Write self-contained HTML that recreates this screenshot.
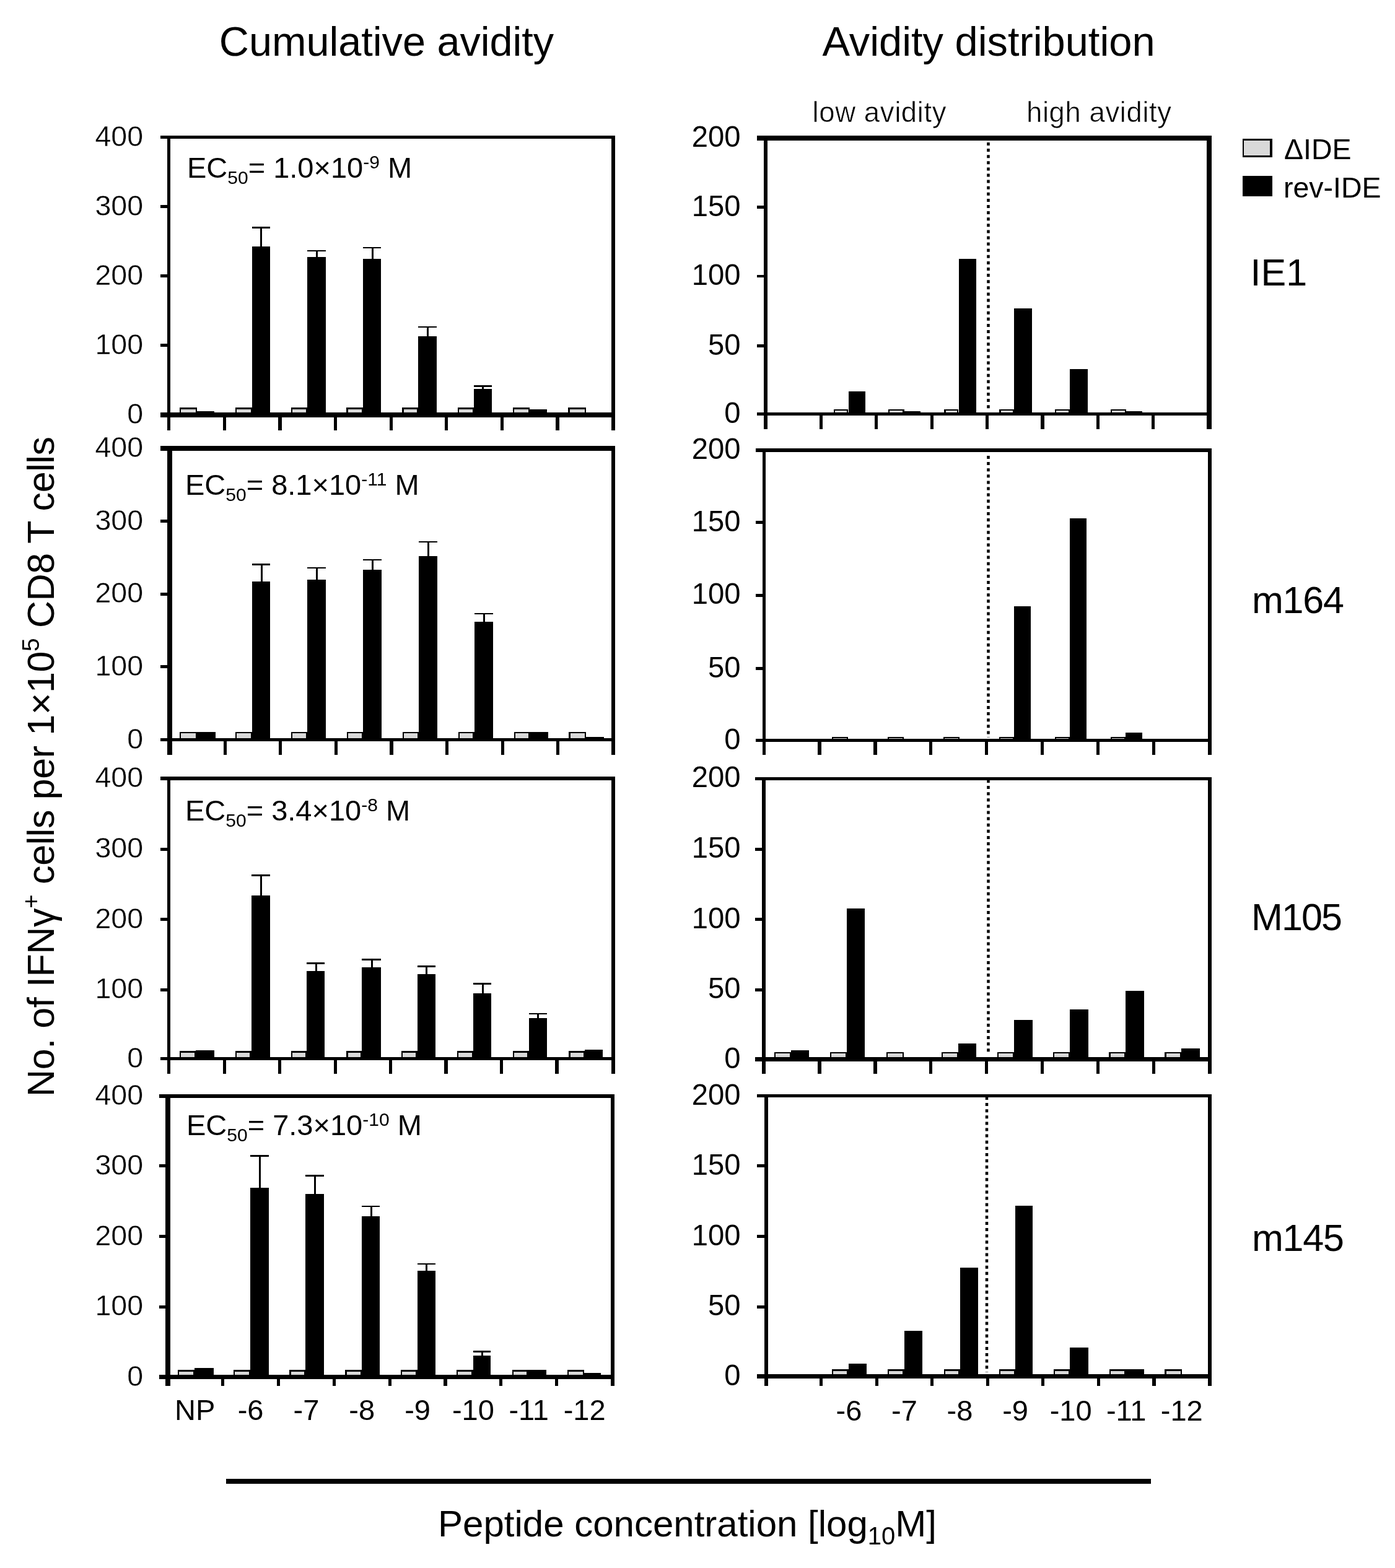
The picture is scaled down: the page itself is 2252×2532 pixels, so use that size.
<!DOCTYPE html>
<html><head><meta charset="utf-8"><title>Cumulative avidity and avidity distribution</title>
<style>
html,body{margin:0;padding:0;background:#fff;}
body{width:2252px;height:2532px;overflow:hidden;}
svg{display:block;font-family:'Liberation Sans', Arial, Helvetica, sans-serif;fill:#000;}
.thin{stroke:#fff;stroke-width:0.6px;}
.thin6{stroke:#fff;stroke-width:0.4px;}
</style></head><body>
<svg width="2252" height="2532" viewBox="0 0 2252 2532">
<rect x="0" y="0" width="2252" height="2532" fill="#fff"/>
<rect x="290" y="658" width="28" height="8" fill="#000"/>
<rect x="292" y="661" width="24" height="5" fill="#d9d9d9"/>
<rect x="380" y="658" width="27" height="8" fill="#000"/>
<rect x="382" y="661" width="23" height="5" fill="#d9d9d9"/>
<rect x="470" y="658" width="26" height="8" fill="#000"/>
<rect x="472" y="661" width="22" height="5" fill="#d9d9d9"/>
<rect x="559" y="658" width="27" height="8" fill="#000"/>
<rect x="562" y="661" width="22" height="5" fill="#d9d9d9"/>
<rect x="649" y="658" width="26" height="8" fill="#000"/>
<rect x="652" y="661" width="21" height="5" fill="#d9d9d9"/>
<rect x="739" y="658" width="26" height="8" fill="#000"/>
<rect x="741" y="661" width="22" height="5" fill="#d9d9d9"/>
<rect x="828" y="658" width="27" height="8" fill="#000"/>
<rect x="830" y="661" width="23" height="5" fill="#d9d9d9"/>
<rect x="917" y="658" width="29" height="8" fill="#000"/>
<rect x="920" y="661" width="24" height="5" fill="#d9d9d9"/>
<rect x="318" y="664" width="28" height="2" fill="#000"/>
<rect x="407" y="398" width="29" height="268" fill="#000"/>
<rect x="496" y="415" width="30" height="251" fill="#000"/>
<rect x="586" y="418" width="29" height="248" fill="#000"/>
<rect x="675" y="543" width="30" height="123" fill="#000"/>
<rect x="765" y="628" width="29" height="38" fill="#000"/>
<rect x="855" y="661" width="28" height="5" fill="#000"/>
<rect x="420" y="367" width="3" height="31" fill="#000"/>
<rect x="407" y="366" width="29" height="3" fill="#000"/>
<rect x="510" y="405" width="3" height="10" fill="#000"/>
<rect x="496" y="404" width="30" height="2" fill="#000"/>
<rect x="600" y="400" width="3" height="18" fill="#000"/>
<rect x="586" y="399" width="29" height="2" fill="#000"/>
<rect x="689" y="528" width="3" height="15" fill="#000"/>
<rect x="675" y="527" width="30" height="2" fill="#000"/>
<rect x="778" y="623" width="3" height="5" fill="#000"/>
<rect x="765" y="622" width="29" height="3" fill="#000"/>
<rect x="259" y="219" width="734" height="5" fill="#000"/>
<rect x="259" y="666" width="734" height="8" fill="#000"/>
<rect x="270" y="219" width="5" height="476" fill="#000"/>
<rect x="987" y="219" width="6" height="476" fill="#000"/>
<rect x="259" y="331" width="11" height="5" fill="#000"/>
<rect x="259" y="443" width="11" height="5" fill="#000"/>
<rect x="259" y="555" width="11" height="5" fill="#000"/>
<rect x="360" y="674" width="5" height="21" fill="#000"/>
<rect x="449" y="674" width="6" height="21" fill="#000"/>
<rect x="539" y="674" width="5" height="21" fill="#000"/>
<rect x="629" y="674" width="5" height="21" fill="#000"/>
<rect x="718" y="674" width="5" height="21" fill="#000"/>
<rect x="808" y="674" width="5" height="21" fill="#000"/>
<rect x="897" y="674" width="6" height="21" fill="#000"/>
<text x="231.0" y="235.5" font-size="46.5" text-anchor="end" class="thin6">400</text>
<text x="231.0" y="347.6" font-size="46.5" text-anchor="end" class="thin6">300</text>
<text x="231.0" y="459.5" font-size="46.5" text-anchor="end" class="thin6">200</text>
<text x="231.0" y="571.8" font-size="46.5" text-anchor="end" class="thin6">100</text>
<text x="231.0" y="684.0" font-size="46.5" text-anchor="end" class="thin6">0</text>
<rect x="290" y="1182" width="28" height="10" fill="#000"/>
<rect x="292" y="1184" width="24" height="8" fill="#d9d9d9"/>
<rect x="380" y="1182" width="27" height="10" fill="#000"/>
<rect x="382" y="1184" width="23" height="8" fill="#d9d9d9"/>
<rect x="470" y="1182" width="26" height="10" fill="#000"/>
<rect x="472" y="1184" width="22" height="8" fill="#d9d9d9"/>
<rect x="560" y="1182" width="26" height="10" fill="#000"/>
<rect x="562" y="1184" width="22" height="8" fill="#d9d9d9"/>
<rect x="650" y="1182" width="26" height="10" fill="#000"/>
<rect x="652" y="1184" width="22" height="8" fill="#d9d9d9"/>
<rect x="740" y="1182" width="26" height="10" fill="#000"/>
<rect x="742" y="1184" width="21" height="8" fill="#d9d9d9"/>
<rect x="830" y="1182" width="26" height="10" fill="#000"/>
<rect x="832" y="1184" width="21" height="8" fill="#d9d9d9"/>
<rect x="918" y="1182" width="28" height="10" fill="#000"/>
<rect x="921" y="1184" width="23" height="8" fill="#d9d9d9"/>
<rect x="318" y="1182" width="30" height="10" fill="#000"/>
<rect x="407" y="939" width="29" height="253" fill="#000"/>
<rect x="496" y="936" width="30" height="256" fill="#000"/>
<rect x="586" y="920" width="30" height="272" fill="#000"/>
<rect x="676" y="898" width="30" height="294" fill="#000"/>
<rect x="766" y="1004" width="30" height="188" fill="#000"/>
<rect x="856" y="1182" width="29" height="10" fill="#000"/>
<rect x="946" y="1190" width="29" height="2" fill="#000"/>
<rect x="421" y="911" width="3" height="28" fill="#000"/>
<rect x="407" y="910" width="29" height="3" fill="#000"/>
<rect x="510" y="917" width="3" height="19" fill="#000"/>
<rect x="496" y="916" width="30" height="2" fill="#000"/>
<rect x="600" y="904" width="3" height="16" fill="#000"/>
<rect x="586" y="903" width="30" height="2" fill="#000"/>
<rect x="690" y="875" width="3" height="23" fill="#000"/>
<rect x="676" y="874" width="30" height="2" fill="#000"/>
<rect x="780" y="991" width="3" height="13" fill="#000"/>
<rect x="766" y="990" width="30" height="2" fill="#000"/>
<rect x="259" y="720" width="734" height="8" fill="#000"/>
<rect x="259" y="1192" width="734" height="5" fill="#000"/>
<rect x="270" y="720" width="8" height="499" fill="#000"/>
<rect x="987" y="720" width="6" height="499" fill="#000"/>
<rect x="259" y="839" width="11" height="5" fill="#000"/>
<rect x="259" y="957" width="11" height="5" fill="#000"/>
<rect x="259" y="1074" width="11" height="5" fill="#000"/>
<rect x="361" y="1197" width="5" height="22" fill="#000"/>
<rect x="450" y="1197" width="5" height="22" fill="#000"/>
<rect x="540" y="1197" width="5" height="22" fill="#000"/>
<rect x="629" y="1197" width="6" height="22" fill="#000"/>
<rect x="719" y="1197" width="5" height="22" fill="#000"/>
<rect x="809" y="1197" width="5" height="22" fill="#000"/>
<rect x="898" y="1197" width="5" height="22" fill="#000"/>
<text x="231.0" y="738.0" font-size="46.5" text-anchor="end" class="thin6">400</text>
<text x="231.0" y="855.6" font-size="46.5" text-anchor="end" class="thin6">300</text>
<text x="231.0" y="973.2" font-size="46.5" text-anchor="end" class="thin6">200</text>
<text x="231.0" y="1090.8" font-size="46.5" text-anchor="end" class="thin6">100</text>
<text x="231.0" y="1208.5" font-size="46.5" text-anchor="end" class="thin6">0</text>
<rect x="290" y="1697" width="26" height="10" fill="#000"/>
<rect x="292" y="1700" width="22" height="7" fill="#d9d9d9"/>
<rect x="380" y="1697" width="26" height="10" fill="#000"/>
<rect x="382" y="1700" width="21" height="7" fill="#d9d9d9"/>
<rect x="470" y="1697" width="25" height="10" fill="#000"/>
<rect x="472" y="1700" width="21" height="7" fill="#d9d9d9"/>
<rect x="559" y="1697" width="25" height="10" fill="#000"/>
<rect x="562" y="1700" width="20" height="7" fill="#d9d9d9"/>
<rect x="648" y="1697" width="26" height="10" fill="#000"/>
<rect x="650" y="1700" width="21" height="7" fill="#d9d9d9"/>
<rect x="738" y="1697" width="26" height="10" fill="#000"/>
<rect x="740" y="1700" width="22" height="7" fill="#d9d9d9"/>
<rect x="828" y="1697" width="26" height="10" fill="#000"/>
<rect x="830" y="1700" width="21" height="7" fill="#d9d9d9"/>
<rect x="918" y="1697" width="26" height="10" fill="#000"/>
<rect x="921" y="1700" width="21" height="7" fill="#d9d9d9"/>
<rect x="316" y="1696" width="30" height="11" fill="#000"/>
<rect x="406" y="1446" width="30" height="261" fill="#000"/>
<rect x="495" y="1568" width="29" height="139" fill="#000"/>
<rect x="584" y="1562" width="31" height="145" fill="#000"/>
<rect x="674" y="1573" width="29" height="134" fill="#000"/>
<rect x="764" y="1604" width="29" height="103" fill="#000"/>
<rect x="854" y="1644" width="29" height="63" fill="#000"/>
<rect x="944" y="1695" width="29" height="12" fill="#000"/>
<rect x="420" y="1414" width="3" height="32" fill="#000"/>
<rect x="406" y="1412" width="30" height="3" fill="#000"/>
<rect x="509" y="1556" width="3" height="12" fill="#000"/>
<rect x="495" y="1554" width="29" height="3" fill="#000"/>
<rect x="599" y="1549" width="3" height="13" fill="#000"/>
<rect x="584" y="1548" width="31" height="3" fill="#000"/>
<rect x="687" y="1561" width="3" height="12" fill="#000"/>
<rect x="674" y="1559" width="29" height="3" fill="#000"/>
<rect x="778" y="1589" width="3" height="15" fill="#000"/>
<rect x="764" y="1587" width="29" height="3" fill="#000"/>
<rect x="867" y="1637" width="3" height="7" fill="#000"/>
<rect x="854" y="1636" width="29" height="2" fill="#000"/>
<rect x="259" y="1254" width="734" height="6" fill="#000"/>
<rect x="259" y="1707" width="734" height="5" fill="#000"/>
<rect x="270" y="1254" width="5" height="480" fill="#000"/>
<rect x="987" y="1254" width="6" height="480" fill="#000"/>
<rect x="259" y="1369" width="11" height="5" fill="#000"/>
<rect x="259" y="1482" width="11" height="5" fill="#000"/>
<rect x="259" y="1596" width="11" height="5" fill="#000"/>
<rect x="360" y="1712" width="5" height="22" fill="#000"/>
<rect x="449" y="1712" width="5" height="22" fill="#000"/>
<rect x="539" y="1712" width="5" height="22" fill="#000"/>
<rect x="628" y="1712" width="5" height="22" fill="#000"/>
<rect x="717" y="1712" width="6" height="22" fill="#000"/>
<rect x="807" y="1712" width="5" height="22" fill="#000"/>
<rect x="896" y="1712" width="6" height="22" fill="#000"/>
<text x="231.0" y="1271.0" font-size="46.5" text-anchor="end" class="thin6">400</text>
<text x="231.0" y="1385.2" font-size="46.5" text-anchor="end" class="thin6">300</text>
<text x="231.0" y="1498.6" font-size="46.5" text-anchor="end" class="thin6">200</text>
<text x="231.0" y="1612.1" font-size="46.5" text-anchor="end" class="thin6">100</text>
<text x="231.0" y="1723.7" font-size="46.5" text-anchor="end" class="thin6">0</text>
<rect x="287" y="2212" width="27" height="8" fill="#000"/>
<rect x="289" y="2215" width="23" height="5" fill="#d9d9d9"/>
<rect x="377" y="2212" width="27" height="8" fill="#000"/>
<rect x="379" y="2215" width="23" height="5" fill="#d9d9d9"/>
<rect x="467" y="2212" width="26" height="8" fill="#000"/>
<rect x="470" y="2215" width="21" height="5" fill="#d9d9d9"/>
<rect x="557" y="2212" width="27" height="8" fill="#000"/>
<rect x="560" y="2215" width="22" height="5" fill="#d9d9d9"/>
<rect x="647" y="2212" width="27" height="8" fill="#000"/>
<rect x="649" y="2215" width="22" height="5" fill="#d9d9d9"/>
<rect x="737" y="2212" width="27" height="8" fill="#000"/>
<rect x="739" y="2215" width="22" height="5" fill="#d9d9d9"/>
<rect x="827" y="2212" width="25" height="8" fill="#000"/>
<rect x="829" y="2215" width="21" height="5" fill="#d9d9d9"/>
<rect x="916" y="2212" width="27" height="8" fill="#000"/>
<rect x="918" y="2215" width="23" height="5" fill="#d9d9d9"/>
<rect x="314" y="2209" width="31" height="11" fill="#000"/>
<rect x="404" y="1918" width="30" height="302" fill="#000"/>
<rect x="493" y="1928" width="30" height="292" fill="#000"/>
<rect x="584" y="1964" width="29" height="256" fill="#000"/>
<rect x="674" y="2052" width="29" height="168" fill="#000"/>
<rect x="764" y="2189" width="28" height="31" fill="#000"/>
<rect x="852" y="2212" width="30" height="8" fill="#000"/>
<rect x="943" y="2217" width="27" height="3" fill="#000"/>
<rect x="418" y="1866" width="3" height="52" fill="#000"/>
<rect x="404" y="1865" width="30" height="3" fill="#000"/>
<rect x="507" y="1899" width="3" height="29" fill="#000"/>
<rect x="493" y="1897" width="30" height="3" fill="#000"/>
<rect x="598" y="1948" width="3" height="16" fill="#000"/>
<rect x="584" y="1947" width="29" height="2" fill="#000"/>
<rect x="687" y="2041" width="3" height="11" fill="#000"/>
<rect x="674" y="2040" width="29" height="2" fill="#000"/>
<rect x="777" y="2182" width="3" height="7" fill="#000"/>
<rect x="764" y="2181" width="28" height="3" fill="#000"/>
<rect x="257" y="1767" width="735" height="6" fill="#000"/>
<rect x="257" y="2220" width="735" height="7" fill="#000"/>
<rect x="267" y="1767" width="8" height="471" fill="#000"/>
<rect x="986" y="1767" width="6" height="471" fill="#000"/>
<rect x="257" y="1880" width="10" height="5" fill="#000"/>
<rect x="257" y="1994" width="10" height="5" fill="#000"/>
<rect x="257" y="2108" width="10" height="5" fill="#000"/>
<rect x="357" y="2227" width="5" height="11" fill="#000"/>
<rect x="447" y="2227" width="5" height="11" fill="#000"/>
<rect x="537" y="2227" width="5" height="11" fill="#000"/>
<rect x="627" y="2227" width="5" height="11" fill="#000"/>
<rect x="716" y="2227" width="6" height="11" fill="#000"/>
<rect x="806" y="2227" width="5" height="11" fill="#000"/>
<rect x="896" y="2227" width="5" height="11" fill="#000"/>
<text x="231.0" y="1784.0" font-size="46.5" text-anchor="end" class="thin6">400</text>
<text x="231.0" y="1896.8" font-size="46.5" text-anchor="end" class="thin6">300</text>
<text x="231.0" y="2010.7" font-size="46.5" text-anchor="end" class="thin6">200</text>
<text x="231.0" y="2124.1" font-size="46.5" text-anchor="end" class="thin6">100</text>
<text x="231.0" y="2237.5" font-size="46.5" text-anchor="end" class="thin6">0</text>
<rect x="1346" y="661" width="23" height="5" fill="#000"/>
<rect x="1348" y="663" width="19" height="3" fill="#d9d9d9"/>
<rect x="1434" y="661" width="26" height="5" fill="#000"/>
<rect x="1436" y="663" width="21" height="3" fill="#d9d9d9"/>
<rect x="1524" y="661" width="23" height="5" fill="#000"/>
<rect x="1527" y="663" width="18" height="3" fill="#d9d9d9"/>
<rect x="1613" y="661" width="24" height="5" fill="#000"/>
<rect x="1616" y="663" width="19" height="3" fill="#d9d9d9"/>
<rect x="1703" y="661" width="24" height="5" fill="#000"/>
<rect x="1705" y="663" width="20" height="3" fill="#d9d9d9"/>
<rect x="1793" y="661" width="25" height="5" fill="#000"/>
<rect x="1795" y="663" width="21" height="3" fill="#d9d9d9"/>
<rect x="1370" y="632" width="27" height="34" fill="#000"/>
<rect x="1460" y="664" width="26" height="2" fill="#000"/>
<rect x="1548" y="418" width="28" height="248" fill="#000"/>
<rect x="1637" y="498" width="29" height="168" fill="#000"/>
<rect x="1727" y="596" width="29" height="70" fill="#000"/>
<rect x="1818" y="664" width="26" height="2" fill="#000"/>
<rect x="1222" y="219" width="734" height="8" fill="#000"/>
<rect x="1222" y="666" width="734" height="5" fill="#000"/>
<rect x="1233" y="219" width="6" height="474" fill="#000"/>
<rect x="1948" y="219" width="8" height="474" fill="#000"/>
<rect x="1222" y="332" width="11" height="5" fill="#000"/>
<rect x="1222" y="444" width="11" height="4" fill="#000"/>
<rect x="1222" y="556" width="11" height="5" fill="#000"/>
<rect x="1323" y="671" width="5" height="22" fill="#000"/>
<rect x="1412" y="671" width="5" height="22" fill="#000"/>
<rect x="1502" y="671" width="5" height="22" fill="#000"/>
<rect x="1591" y="671" width="5" height="22" fill="#000"/>
<rect x="1680" y="671" width="6" height="22" fill="#000"/>
<rect x="1770" y="671" width="5" height="22" fill="#000"/>
<rect x="1859" y="671" width="5" height="22" fill="#000"/>
<text x="1195.5" y="237.0" font-size="47.2" text-anchor="end" >200</text>
<text x="1195.5" y="348.5" font-size="47.2" text-anchor="end" >150</text>
<text x="1195.5" y="460.0" font-size="47.2" text-anchor="end" >100</text>
<text x="1195.5" y="572.6" font-size="47.2" text-anchor="end" >50</text>
<text x="1195.5" y="682.5" font-size="47.2" text-anchor="end" >0</text>
<line x1="1595.5" y1="230" x2="1595.5" y2="664" stroke="#000" stroke-width="4.5" stroke-dasharray="5 5.1"/>
<rect x="1343" y="1190" width="26" height="3" fill="#000"/>
<rect x="1345" y="1192" width="22" height="1" fill="#d9d9d9"/>
<rect x="1433" y="1190" width="26" height="3" fill="#000"/>
<rect x="1435" y="1192" width="22" height="1" fill="#d9d9d9"/>
<rect x="1523" y="1190" width="26" height="3" fill="#000"/>
<rect x="1525" y="1192" width="22" height="1" fill="#d9d9d9"/>
<rect x="1613" y="1190" width="24" height="3" fill="#000"/>
<rect x="1615" y="1192" width="20" height="1" fill="#d9d9d9"/>
<rect x="1703" y="1190" width="24" height="3" fill="#000"/>
<rect x="1705" y="1192" width="20" height="1" fill="#d9d9d9"/>
<rect x="1793" y="1190" width="24" height="3" fill="#000"/>
<rect x="1795" y="1192" width="20" height="1" fill="#d9d9d9"/>
<rect x="1637" y="979" width="27" height="214" fill="#000"/>
<rect x="1727" y="837" width="27" height="356" fill="#000"/>
<rect x="1817" y="1183" width="27" height="10" fill="#000"/>
<rect x="1220" y="724" width="736" height="6" fill="#000"/>
<rect x="1220" y="1193" width="736" height="5" fill="#000"/>
<rect x="1231" y="724" width="5" height="495" fill="#000"/>
<rect x="1950" y="724" width="6" height="495" fill="#000"/>
<rect x="1220" y="841" width="11" height="5" fill="#000"/>
<rect x="1220" y="959" width="11" height="5" fill="#000"/>
<rect x="1220" y="1077" width="11" height="5" fill="#000"/>
<rect x="1320" y="1198" width="6" height="21" fill="#000"/>
<rect x="1410" y="1198" width="6" height="21" fill="#000"/>
<rect x="1500" y="1198" width="5" height="21" fill="#000"/>
<rect x="1590" y="1198" width="5" height="21" fill="#000"/>
<rect x="1680" y="1198" width="5" height="21" fill="#000"/>
<rect x="1770" y="1198" width="5" height="21" fill="#000"/>
<rect x="1860" y="1198" width="5" height="21" fill="#000"/>
<text x="1195.5" y="741.0" font-size="47.2" text-anchor="end" >200</text>
<text x="1195.5" y="857.6" font-size="47.2" text-anchor="end" >150</text>
<text x="1195.5" y="975.1" font-size="47.2" text-anchor="end" >100</text>
<text x="1195.5" y="1093.5" font-size="47.2" text-anchor="end" >50</text>
<text x="1195.5" y="1209.5" font-size="47.2" text-anchor="end" >0</text>
<line x1="1595.5" y1="736" x2="1595.5" y2="1191" stroke="#000" stroke-width="4.5" stroke-dasharray="5 5.1"/>
<rect x="1250" y="1699" width="27" height="8" fill="#000"/>
<rect x="1252" y="1701" width="23" height="6" fill="#d9d9d9"/>
<rect x="1340" y="1699" width="27" height="8" fill="#000"/>
<rect x="1342" y="1701" width="23" height="6" fill="#d9d9d9"/>
<rect x="1431" y="1699" width="28" height="8" fill="#000"/>
<rect x="1433" y="1701" width="24" height="6" fill="#d9d9d9"/>
<rect x="1520" y="1699" width="27" height="8" fill="#000"/>
<rect x="1522" y="1701" width="23" height="6" fill="#d9d9d9"/>
<rect x="1610" y="1699" width="27" height="8" fill="#000"/>
<rect x="1612" y="1701" width="23" height="6" fill="#d9d9d9"/>
<rect x="1700" y="1699" width="27" height="8" fill="#000"/>
<rect x="1702" y="1701" width="23" height="6" fill="#d9d9d9"/>
<rect x="1790" y="1699" width="27" height="8" fill="#000"/>
<rect x="1793" y="1701" width="22" height="6" fill="#d9d9d9"/>
<rect x="1880" y="1699" width="27" height="8" fill="#000"/>
<rect x="1883" y="1701" width="22" height="6" fill="#d9d9d9"/>
<rect x="1277" y="1696" width="29" height="11" fill="#000"/>
<rect x="1367" y="1467" width="29" height="240" fill="#000"/>
<rect x="1547" y="1685" width="29" height="22" fill="#000"/>
<rect x="1637" y="1647" width="30" height="60" fill="#000"/>
<rect x="1727" y="1630" width="30" height="77" fill="#000"/>
<rect x="1817" y="1600" width="30" height="107" fill="#000"/>
<rect x="1907" y="1693" width="30" height="14" fill="#000"/>
<rect x="1219" y="1255" width="737" height="5" fill="#000"/>
<rect x="1219" y="1707" width="737" height="7" fill="#000"/>
<rect x="1230" y="1255" width="6" height="479" fill="#000"/>
<rect x="1950" y="1255" width="6" height="479" fill="#000"/>
<rect x="1219" y="1369" width="11" height="5" fill="#000"/>
<rect x="1219" y="1482" width="11" height="5" fill="#000"/>
<rect x="1219" y="1596" width="11" height="5" fill="#000"/>
<rect x="1320" y="1714" width="6" height="20" fill="#000"/>
<rect x="1410" y="1714" width="6" height="20" fill="#000"/>
<rect x="1500" y="1714" width="5" height="20" fill="#000"/>
<rect x="1590" y="1714" width="5" height="20" fill="#000"/>
<rect x="1680" y="1714" width="5" height="20" fill="#000"/>
<rect x="1770" y="1714" width="5" height="20" fill="#000"/>
<rect x="1860" y="1714" width="5" height="20" fill="#000"/>
<text x="1195.5" y="1271.0" font-size="47.2" text-anchor="end" >200</text>
<text x="1195.5" y="1385.2" font-size="47.2" text-anchor="end" >150</text>
<text x="1195.5" y="1498.6" font-size="47.2" text-anchor="end" >100</text>
<text x="1195.5" y="1612.1" font-size="47.2" text-anchor="end" >50</text>
<text x="1195.5" y="1725.0" font-size="47.2" text-anchor="end" >0</text>
<line x1="1595.5" y1="1259" x2="1595.5" y2="1701" stroke="#000" stroke-width="4.5" stroke-dasharray="5 5.1"/>
<rect x="1343" y="2211" width="27" height="8" fill="#000"/>
<rect x="1345" y="2214" width="22" height="5" fill="#d9d9d9"/>
<rect x="1433" y="2211" width="27" height="8" fill="#000"/>
<rect x="1435" y="2214" width="22" height="5" fill="#d9d9d9"/>
<rect x="1524" y="2211" width="26" height="8" fill="#000"/>
<rect x="1526" y="2214" width="21" height="5" fill="#d9d9d9"/>
<rect x="1613" y="2211" width="26" height="8" fill="#000"/>
<rect x="1615" y="2214" width="22" height="5" fill="#d9d9d9"/>
<rect x="1701" y="2211" width="26" height="8" fill="#000"/>
<rect x="1703" y="2214" width="22" height="5" fill="#d9d9d9"/>
<rect x="1791" y="2211" width="26" height="8" fill="#000"/>
<rect x="1793" y="2214" width="22" height="5" fill="#d9d9d9"/>
<rect x="1880" y="2211" width="28" height="8" fill="#000"/>
<rect x="1883" y="2214" width="23" height="5" fill="#d9d9d9"/>
<rect x="1370" y="2202" width="29" height="17" fill="#000"/>
<rect x="1460" y="2149" width="29" height="70" fill="#000"/>
<rect x="1550" y="2047" width="29" height="172" fill="#000"/>
<rect x="1639" y="1947" width="28" height="272" fill="#000"/>
<rect x="1727" y="2176" width="30" height="43" fill="#000"/>
<rect x="1817" y="2211" width="30" height="8" fill="#000"/>
<rect x="1222" y="1767" width="734" height="5" fill="#000"/>
<rect x="1222" y="2219" width="734" height="7" fill="#000"/>
<rect x="1234" y="1767" width="6" height="471" fill="#000"/>
<rect x="1950" y="1767" width="6" height="471" fill="#000"/>
<rect x="1222" y="1880" width="12" height="5" fill="#000"/>
<rect x="1222" y="1994" width="12" height="5" fill="#000"/>
<rect x="1222" y="2108" width="12" height="5" fill="#000"/>
<rect x="1323" y="2226" width="5" height="12" fill="#000"/>
<rect x="1413" y="2226" width="5" height="12" fill="#000"/>
<rect x="1502" y="2226" width="5" height="12" fill="#000"/>
<rect x="1592" y="2226" width="5" height="12" fill="#000"/>
<rect x="1681" y="2226" width="5" height="12" fill="#000"/>
<rect x="1771" y="2226" width="5" height="12" fill="#000"/>
<rect x="1860" y="2226" width="6" height="12" fill="#000"/>
<text x="1195.5" y="1784.0" font-size="47.2" text-anchor="end" >200</text>
<text x="1195.5" y="1896.8" font-size="47.2" text-anchor="end" >150</text>
<text x="1195.5" y="2010.7" font-size="47.2" text-anchor="end" >100</text>
<text x="1195.5" y="2124.1" font-size="47.2" text-anchor="end" >50</text>
<text x="1195.5" y="2237.0" font-size="47.2" text-anchor="end" >0</text>
<line x1="1593" y1="1771" x2="1593" y2="2216" stroke="#000" stroke-width="4.5" stroke-dasharray="5 5.1"/>
<text x="302" y="286.6" font-size="47">EC<tspan font-size="30" dy="10">50</tspan><tspan dy="-10">= 1.0×10</tspan><tspan font-size="30" dy="-15">-9</tspan><tspan dy="15"> M</tspan></text>
<text x="299" y="798.8" font-size="47">EC<tspan font-size="30" dy="10">50</tspan><tspan dy="-10">= 8.1×10</tspan><tspan font-size="30" dy="-15">-11</tspan><tspan dy="15"> M</tspan></text>
<text x="299" y="1325.4" font-size="47">EC<tspan font-size="30" dy="10">50</tspan><tspan dy="-10">= 3.4×10</tspan><tspan font-size="30" dy="-15">-8</tspan><tspan dy="15"> M</tspan></text>
<text x="301" y="1832.5" font-size="47">EC<tspan font-size="30" dy="10">50</tspan><tspan dy="-10">= 7.3×10</tspan><tspan font-size="30" dy="-15">-10</tspan><tspan dy="15"> M</tspan></text>
<text x="624.0" y="89.6" font-size="66.6" text-anchor="middle" >Cumulative avidity</text>
<text x="1596.0" y="89.6" font-size="66.8" text-anchor="middle" >Avidity distribution</text>
<text x="1419.5" y="196.5" font-size="45.5" text-anchor="middle" class="thin" textLength="216" lengthAdjust="spacing">low avidity</text>
<text x="1774.0" y="196.5" font-size="45.5" text-anchor="middle" class="thin" textLength="234" lengthAdjust="spacing">high avidity</text>
<rect x="2006" y="224" width="48" height="30" fill="#000"/>
<rect x="2008" y="227" width="42" height="24" fill="#d9d9d9"/>
<rect x="2006" y="284" width="48" height="33" fill="#000"/>
<text x="2073.0" y="256.8" font-size="46.5" text-anchor="start" >ΔIDE</text>
<text x="2072.0" y="318.7" font-size="46.5" text-anchor="start" >rev-IDE</text>
<text x="2018.5" y="461.1" font-size="61" text-anchor="start" >IE1</text>
<text x="2021.0" y="990.0" font-size="61" text-anchor="start" textLength="149" lengthAdjust="spacing">m164</text>
<text x="2020.0" y="1502.3" font-size="61" text-anchor="start" textLength="147" lengthAdjust="spacing">M105</text>
<text x="2021.0" y="2019.9" font-size="61" text-anchor="start" textLength="149" lengthAdjust="spacing">m145</text>
<text x="314.7" y="2293.0" font-size="47" text-anchor="middle" >NP</text>
<text x="404.6" y="2293.0" font-size="47" text-anchor="middle" >-6</text>
<text x="494.4" y="2293.0" font-size="47" text-anchor="middle" >-7</text>
<text x="584.2" y="2293.0" font-size="47" text-anchor="middle" >-8</text>
<text x="674.1" y="2293.0" font-size="47" text-anchor="middle" >-9</text>
<text x="763.9" y="2293.0" font-size="47" text-anchor="middle" >-10</text>
<text x="853.7" y="2293.0" font-size="47" text-anchor="middle" >-11</text>
<text x="943.6" y="2293.0" font-size="47" text-anchor="middle" >-12</text>
<text x="1370.4" y="2294.0" font-size="47" text-anchor="middle" >-6</text>
<text x="1459.9" y="2294.0" font-size="47" text-anchor="middle" >-7</text>
<text x="1549.5" y="2294.0" font-size="47" text-anchor="middle" >-8</text>
<text x="1639.1" y="2294.0" font-size="47" text-anchor="middle" >-9</text>
<text x="1728.7" y="2294.0" font-size="47" text-anchor="middle" >-10</text>
<text x="1818.2" y="2294.0" font-size="47" text-anchor="middle" >-11</text>
<text x="1907.8" y="2294.0" font-size="47" text-anchor="middle" >-12</text>
<rect x="365" y="2388" width="1493" height="8" fill="#000"/>
<text x="707" y="2481" font-size="60">Peptide concentration [log<tspan font-size="40" dy="13">10</tspan><tspan dy="-13">M]</tspan></text>
<text transform="translate(86.8,1771) rotate(-90)" x="0" y="0" font-size="61" textLength="1066" lengthAdjust="spacing">No. of IFNγ<tspan font-size="39" dy="-24">+</tspan><tspan dy="24"> cells per 1×10</tspan><tspan font-size="39" dy="-24">5</tspan><tspan dy="24"> CD8 T cells</tspan></text>
</svg>
</body></html>
